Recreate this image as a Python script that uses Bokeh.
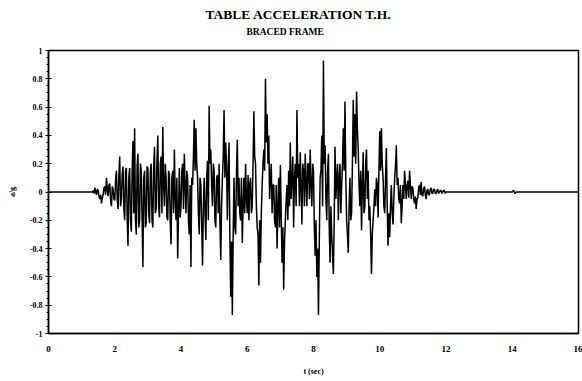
import numpy as np
from bokeh.plotting import figure
from bokeh.models import FixedTicker, PrintfTickFormatter, Title, ColumnDataSource
from bokeh.embed import file_html
from bokeh.resources import INLINE

# ---- data ----
title_text = "TABLE ACCELERATION T.H."
subtitle_text = "BRACED FRAME"
x_label = "t (sec)"
y_label = "a/g"

x_ticks = [0, 2, 4, 6, 8, 10, 12, 14, 16]
y_ticks = [-1, -0.8, -0.6, -0.4, -0.2, 0, 0.2, 0.4, 0.6, 0.8, 1]

# strong-motion part: main samples every 0.05 s from 1.30 s
a_start = 1.30
step = 0.05
acc_a = [
    0.00, 0.01, 0.03, -0.02, 0.01, -0.05, -0.08, -0.02, 0.04, 0.10,   # 1.30
    -0.03, 0.06, -0.10, 0.02, -0.06, 0.15, -0.12, 0.25, -0.05, 0.18,  # 1.80
    -0.20, 0.17, -0.38, 0.17, -0.28, 0.36, 0.45, -0.30, 0.27, -0.20,  # 2.30
    0.15, -0.53, 0.15, -0.22, 0.17, -0.22, 0.20, -0.25, 0.32, -0.12,  # 2.80
    0.40, -0.18, 0.25, 0.46, -0.10, 0.10, -0.20, 0.12, -0.37, 0.15,   # 3.30
    0.30, -0.20, -0.47, 0.17, -0.10, 0.20, 0.27, -0.15, 0.10, -0.30,  # 3.80
    -0.53, 0.05, 0.51, 0.45, 0.10, -0.30, 0.05, -0.52, 0.10, -0.34,   # 4.30
    0.22, 0.61, 0.30, -0.10, 0.15, -0.25, 0.12, 0.20, -0.48, 0.10,    # 4.80
    0.58, 0.35, -0.20, 0.35, -0.74, -0.87, 0.10, -0.30, 0.37, 0.10,   # 5.30
    -0.20, -0.36, 0.10, 0.20, -0.15, -0.20, 0.10, -0.10, 0.57, 0.20,  # 5.80
    -0.25, -0.66, -0.50, 0.05, 0.30, 0.80, 0.55, 0.40, 0.10, -0.15,   # 6.30
    0.05, -0.25, -0.40, 0.10, 0.19, -0.50, -0.69, -0.20, 0.05, 0.15,  # 6.80
    0.35, 0.10, -0.25, 0.20, 0.58, 0.20, 0.28, -0.23, 0.15, 0.27,     # 7.30
    -0.10, 0.20, 0.30, -0.10, 0.15, -0.45, -0.60, -0.87, 0.10, 0.40,  # 7.80
    0.93, 0.33, -0.20, 0.27, -0.50, -0.30, -0.58, 0.32, 0.10, -0.20,  # 8.30
    0.20, 0.05, 0.45, 0.64, -0.20, -0.43, 0.10, -0.15, 0.65, 0.55,    # 8.80
    0.71, 0.30, -0.10, -0.27, 0.28, -0.10, 0.30, 0.15, -0.10, -0.58,  # 9.30
    -0.20, 0.02, 0.10, -0.18, 0.43, 0.45, 0.10, -0.15, 0.31, -0.38,   # 9.80
    -0.32, 0.05, -0.23, 0.10, 0.33, 0.10, -0.08, -0.22, 0.05, 0.15,   # 10.30
    -0.05, 0.08, 0.15, -0.05, 0.03, -0.08, -0.12, -0.04, 0.05, 0.07,  # 10.80
    -0.03, 0.04, -0.05, 0.02, -0.02, 0.03, -0.01, 0.02, -0.01, 0.02,  # 11.30
    0.00, 0.01, 0.00, 0.01, 0.00,                                     # 11.80
]
# in-between oscillation samples, every 0.05 s from 1.325 s
b_start = 1.325
acc_b = [
    0.00, -0.01, 0.00, 0.02, -0.03, -0.02, -0.04, 0.03, -0.02, 0.02,     # 1.325
    0.05, -0.06, 0.04, -0.05, 0.08, -0.05, 0.12, -0.10, 0.12, -0.12,     # 1.825
    0.15, -0.18, 0.10, -0.20, 0.15, -0.15, -0.20, 0.18, -0.25, 0.20,     # 2.325
    -0.20, 0.10, -0.25, 0.18, -0.15, 0.15, -0.20, 0.18, -0.15, 0.22,     # 2.825
    -0.10, 0.20, -0.15, 0.05, 0.20, -0.18, 0.15, -0.22, 0.10, -0.15,     # 3.325
    -0.05, 0.10, -0.15, -0.18, 0.15, -0.12, 0.05, 0.15, -0.20, 0.05,     # 3.825
    0.10, 0.25, 0.15, 0.20, -0.15, 0.10, -0.25, -0.10, -0.15, 0.10,      # 4.325
    -0.20, 0.20, 0.05, 0.20, -0.20, 0.10, -0.15, -0.20, -0.10, 0.25,     # 4.825
    0.10, 0.20, 0.15, -0.30, -0.35, -0.30, -0.25, 0.15, -0.10, -0.15,    # 5.325
    0.10, -0.10, -0.15, -0.05, 0.12, 0.05, -0.15, 0.20, 0.25, -0.10,     # 5.825
    -0.30, -0.20, -0.15, 0.20, 0.15, 0.35, 0.20, -0.05, 0.20, 0.05,      # 6.325
    -0.20, 0.05, -0.10, -0.25, -0.15, -0.25, -0.35, -0.05, -0.20, -0.10, # 6.825
    -0.05, 0.25, 0.10, -0.10, 0.10, -0.10, 0.05, 0.20, -0.10, 0.05,      # 7.325
    0.20, -0.05, 0.05, 0.20, -0.25, -0.20, -0.40, -0.35, 0.15, -0.10,    # 7.825
    0.20, -0.05, 0.15, -0.25, -0.10, -0.45, -0.20, -0.05, 0.20, 0.10,    # 8.325
    -0.15, 0.20, 0.15, 0.10, -0.30, -0.10, -0.20, 0.20, 0.25, 0.20,      # 8.825
    0.45, 0.05, 0.15, 0.05, -0.15, 0.20, -0.05, -0.20, -0.30, -0.30,     # 9.325
    -0.10, -0.10, 0.05, 0.15, 0.15, 0.20, -0.10, 0.10, -0.10, -0.15,     # 9.825
    -0.10, -0.15, -0.05, 0.18, 0.05, -0.05, 0.05, -0.10, -0.05, 0.05,    # 10.325
    0.05, -0.04, 0.05, 0.04, -0.05, -0.03, -0.05, 0.03, -0.02, -0.02,    # 10.825
    0.02, -0.02, 0.01, -0.02, 0.02, -0.01, 0.02, -0.01, 0.01, -0.01,     # 11.325
    0.01, -0.01, 0.01, -0.01,                                            # 11.825
]

# quiet parts before / after the motion (incl. small blip near 14 s)
pre_t = [0.0]
pre_acc = [0.0]
post_t = [14.00, 14.04, 14.08, 14.12, 16.0]
post_acc = [0.0, 0.012, -0.010, 0.0, 0.0]

pts = [(round(a_start + i * step, 3), v) for i, v in enumerate(acc_a)]
pts += [(round(b_start + i * step, 3), v) for i, v in enumerate(acc_b)]
pts += list(zip(pre_t, pre_acc)) + list(zip(post_t, post_acc))
pts.sort(key=lambda q: q[0])
src = ColumnDataSource(dict(t=[q[0] for q in pts], a=[q[1] for q in pts]))

# ---- figure ----
FONT = "Liberation Serif"
p = figure(width=582, height=381, output_backend="svg", toolbar_location=None,
           x_range=(0, 16), y_range=(-1, 1),
           min_border_left=48, min_border_right=4, min_border_top=50, min_border_bottom=48)
p.background_fill_color = "white"
p.border_fill_color = "white"
p.outline_line_color = "black"
p.outline_line_width = 1.5
p.xgrid.visible = False
p.ygrid.visible = False

p.line("t", "a", source=src, line_color="black", line_width=1.5)

# titles: p.title is the outer one, the added Title sits next to the frame
p.title.text = title_text
p.title.align = "left"
p.title.offset = 157
p.title.standoff = -14
p.title.text_font = FONT
p.title.text_font_style = "bold"
p.title.text_font_size = "13.5px"
p.title.text_color = "black"
p.add_layout(Title(text=subtitle_text, align="left", offset=198, standoff=24,
                   vertical_align="top",
                   text_font=FONT, text_font_style="bold", text_font_size="9.5px",
                   text_color="black"), "above")

# x axis
xa = p.xaxis[0]
xa.ticker = FixedTicker(ticks=x_ticks)
xa.major_tick_in = 0
xa.major_tick_out = 0
xa.minor_tick_in = 0
xa.minor_tick_out = 0
xa.axis_line_color = "black"
xa.axis_line_width = 1.5
xa.major_label_standoff = 12
xa.major_label_text_font = FONT
xa.major_label_text_font_style = "bold"
xa.major_label_text_font_size = "9px"
xa.major_label_text_color = "black"
xa.axis_label = x_label
xa.axis_label_standoff = 12
xa.axis_label_text_font = FONT
xa.axis_label_text_font_style = "bold"
xa.axis_label_text_font_size = "8px"
xa.axis_label_text_color = "black"

# y axis
minor = [round(v, 3) for v in np.arange(-1, 1.0001, 0.05)]
ya = p.yaxis[0]
ya.ticker = FixedTicker(ticks=y_ticks, minor_ticks=minor)
ya.formatter = PrintfTickFormatter(format="%g")
ya.major_tick_in = 3
ya.major_tick_out = 3
ya.minor_tick_in = 0
ya.minor_tick_out = 2
ya.major_tick_line_color = "black"
ya.minor_tick_line_color = "black"
ya.axis_line_color = "black"
ya.axis_line_width = 1.5
ya.major_label_standoff = 3
ya.major_label_text_font = FONT
ya.major_label_text_font_style = "bold"
ya.major_label_text_font_size = "8px"
ya.major_label_text_color = "black"
ya.axis_label = y_label
ya.axis_label_standoff = 10
ya.axis_label_text_font = FONT
ya.axis_label_text_font_style = "bold"
ya.axis_label_text_font_size = "8px"
ya.axis_label_text_color = "black"

open("out.html", "w").write(file_html(p, INLINE))
